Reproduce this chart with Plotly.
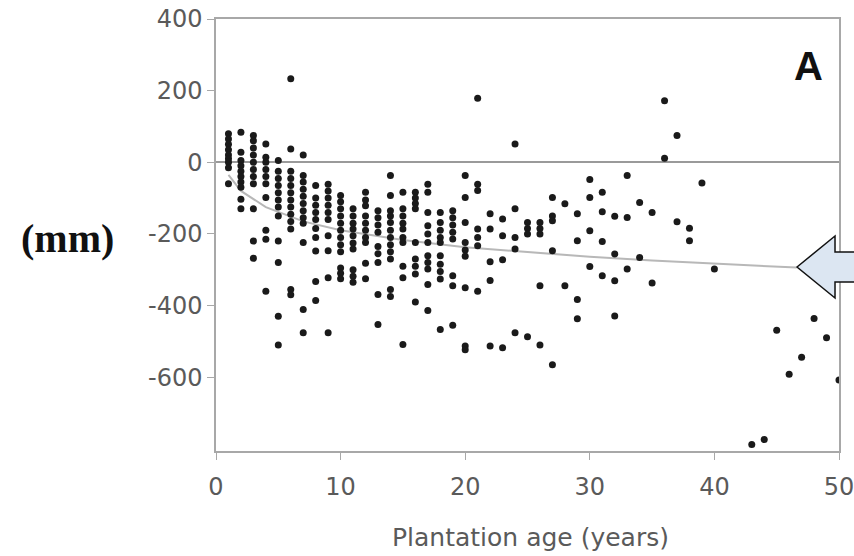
import plotly.graph_objects as go

# ---- data ----
age = (
    [1]*9 + [2]*10 + [3]*11 + [4]*10 + [5]*12 + [6]*13 + [7]*12 + [8]*10 + [9]*10 + [10]*12
    + [11]*10 + [12]*10 + [13]*9 + [14]*12 + [15]*10 + [16]*9 + [17]*11 + [18]*10 + [19]*8 + [20]*9
    + [21]*7 + [22]*5 + [23]*4 + [24]*5 + [25]*4 + [26]*5 + [27]*5 + [28]*2 + [29]*4 + [30]*4
    + [31]*4 + [32]*4 + [33]*3 + [34]*2 + [35]*2 + [36]*2 + [37]*2 + [38]*2 + [39] + [40]
    + [43, 44, 45, 46, 47, 48, 49, 50]
)
change_mm = [
    80, 65, 50, 35, 20, 10, 0, -15, -60,
    84, 28, 5, -10, -25, -40, -55, -70, -103, -130,
    75, 60, 40, 20, 0, -20, -40, -60, -130, -220, -268,
    51, 14, 0, -20, -40, -60, -98, -190, -215, -360,
    5, -25, -45, -65, -85, -105, -125, -150, -220, -280, -430, -510,
    233, 37, -25, -45, -65, -85, -105, -125, -145, -165, -186, -355, -370,
    20, -37, -55, -75, -95, -115, -135, -155, -170, -224, -411, -476,
    -65, -100, -120, -140, -160, -185, -210, -248, -333, -386,
    -61, -80, -100, -120, -140, -160, -205, -247, -322, -476,
    -93, -110, -130, -150, -170, -190, -210, -230, -250, -295, -310, -325,
    -130, -150, -170, -186, -205, -225, -242, -300, -318, -335,
    -84, -105, -121, -150, -170, -190, -210, -224, -282, -325,
    -135, -155, -175, -195, -235, -255, -280, -369, -453,
    -37, -93, -135, -150, -168, -190, -210, -230, -250, -270, -355, -375,
    -84, -130, -150, -170, -186, -210, -224, -290, -322, -509,
    -84, -100, -115, -130, -224, -270, -290, -312, -390,
    -61, -84, -140, -177, -200, -224, -261, -280, -298, -341, -414,
    -140, -168, -190, -210, -224, -261, -285, -305, -326, -467,
    -135, -155, -175, -195, -214, -317, -345, -455,
    -37, -98, -168, -224, -245, -262, -350, -513, -523,
    179, -61, -79, -186, -210, -233, -360,
    -144, -186, -278, -330, -513,
    -158, -205, -272, -518,
    51, -130, -210, -242, -476,
    -168, -185, -200, -487,
    -168, -185, -200, -345, -510,
    -98, -150, -163, -247, -565,
    -116, -345,
    -144, -219, -383, -437,
    -48, -98, -191, -291,
    -84, -138, -221, -317,
    -151, -256, -331, -429,
    -37, -154, -298,
    -112, -266,
    -140, -337,
    172, 11,
    75, -166,
    -184, -219,
    -58,
    -298,
    -788, -774, -469, -592, -544, -436, -490, -608,
]

# fitted trend line, read at a few ages
fit_age = [1, 2, 4, 7, 10, 15, 20, 25, 30, 35, 40, 46.6]
fit_mm = [-35, -80, -125, -165, -190, -217, -237, -251, -264, -274, -283, -294]

x_ticks = [0, 10, 20, 30, 40, 50]
x_labels = ["0", "10", "20", "30", "40", "50"]
y_ticks = [400, 200, 0, -200, -400, -600]
y_labels = ["400", "200", "0", "-200", "-400", "-600"]

W, H = 854, 556
ML, MR, MT, MB = 216, 15, 19, 105
PW, PH = W - ML - MR, H - MT - MB


def px(x):
    return (x - ML) / PW


def py(y):
    return (H - MB - y) / PH


fig = go.Figure()
fig.add_trace(go.Scatter(x=fit_age, y=fit_mm, mode="lines",
                         line=dict(color="#b8b8b8", width=2), hoverinfo="skip"))
fig.add_trace(go.Scatter(x=age, y=change_mm, mode="markers",
                         marker=dict(color="#1a1a1a", size=7, line=dict(width=0))))

axis_common = dict(
    showline=True, linecolor="#a8a8a8", linewidth=1.5, mirror=True,
    ticks="outside", ticklen=7, tickcolor="#a8a8a8", tickwidth=1.2,
    showgrid=False, ticklabeloverflow="allow", automargin=False,
    tickfont=dict(family="DejaVu Sans", size=24, color="#5a5a5a"),
)

fig.update_layout(
    width=W, height=H,
    margin=dict(l=ML, r=MR, t=MT, b=MB, autoexpand=False),
    paper_bgcolor="white", plot_bgcolor="white",
    showlegend=False,
    xaxis=dict(range=[0, 50], tickvals=x_ticks, ticktext=x_labels, zeroline=False,
               ticklabelstandoff=6, **axis_common),
    yaxis=dict(range=[-806, 400], tickvals=y_ticks, ticktext=y_labels, zeroline=True,
               zerolinecolor="#9a9a9a", zerolinewidth=2, **axis_common),
)

fig.add_annotation(text="Plantation age (years)", xref="paper", yref="paper",
                   x=px(530), y=py(537), showarrow=False, xanchor="center", yanchor="middle",
                   font=dict(family="DejaVu Sans", size=25, color="#5a5a5a"))
fig.add_annotation(text="<b>(mm)</b>", xref="paper", yref="paper",
                   x=px(67), y=py(238), showarrow=False, xanchor="center", yanchor="middle",
                   font=dict(family="Liberation Serif", size=40, color="#111111"))
fig.add_annotation(text="<b>A</b>", xref="paper", yref="paper",
                   x=px(808), y=py(66), showarrow=False, xanchor="center", yanchor="middle",
                   font=dict(family="Liberation Sans", size=40, color="#111111"))

arrow_pts = [(797, 267), (835, 236), (835, 252), (862, 252), (862, 282), (835, 282), (835, 298)]
path = "M " + " L ".join(f"{px(a):.4f},{py(b):.4f}" for a, b in arrow_pts) + " Z"
fig.add_shape(type="path", path=path, xref="paper", yref="paper",
              fillcolor="#dce6f2", line=dict(color="#111111", width=1.5), layer="above")

fig.write_html("out.html")
